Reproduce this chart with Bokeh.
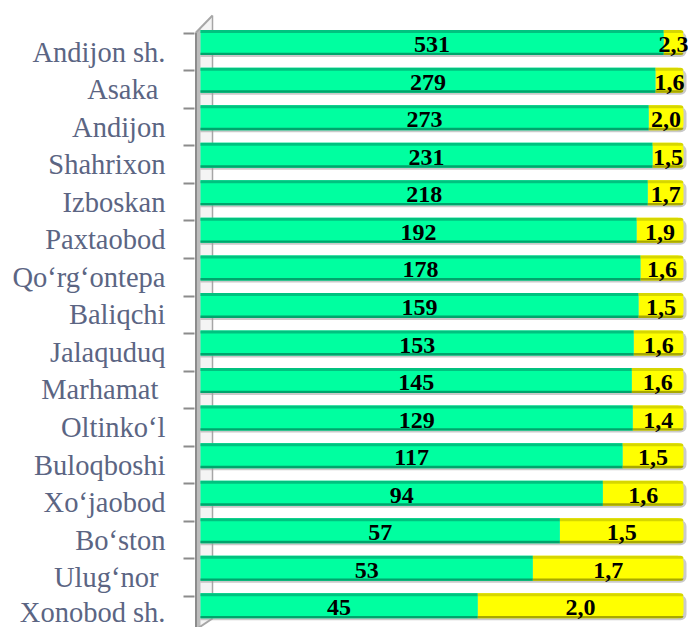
from bokeh.plotting import figure
from bokeh.models import Range1d, LinearAxis, FixedTicker, ColumnDataSource
from bokeh.core.properties import value
from bokeh.embed import file_html
from bokeh.resources import INLINE

# ---------------- data ----------------
districts = ["Andijon sh.", "Asaka\u00a0", "Andijon", "Shahrixon", "Izboskan", "Paxtaobod",
             "Qo\u2018rg\u2018ontepa", "Baliqchi", "Jalaquduq", "Marhamat\u00a0", "Oltinko\u2018l",
             "Buloqboshi", "Xo\u2018jaobod", "Bo\u2018ston", "Ulug\u2018nor\u00a0", "Xonobod sh."]
green_values = [531, 279, 273, 231, 218, 192, 178, 159, 153, 145, 129, 117, 94, 57, 53, 45]
yellow_values = [2.3, 1.6, 2.0, 1.5, 1.7, 1.9, 1.6, 1.5, 1.6, 1.6, 1.4, 1.5, 1.6, 1.5, 1.7, 2.0]
green_share = [95.9, 94.2, 92.8, 93.6, 92.6, 90.3, 91.1, 90.7, 89.7, 89.3, 89.5, 87.4, 83.3, 74.4, 68.8, 57.4]

# ---------------- geometry ----------------
W, H = 688, 627
LEFT = 194
KX = 4.83            # px per percent
KY = 37.55           # px per category
X0 = -6.0 / KX
X1 = X0 + (W - LEFT) / KX
Y_TOP = -51.5 / KY
Y_BOT = Y_TOP + H / KY
PX = 1.0 / KX
PY = 1.0 / KY


def xd(px):  # page px -> data x
    return X0 + (px - LEFT) / KX


def yd(py):  # page px -> data y
    return Y_TOP + py / KY


n = len(districts)
BAR_SHIFT = -0.25
BAR_H = 25 * PY
idx = list(range(n))
bar_y = [i + BAR_SHIFT for i in idx]
full = [100.0] * n

src = ColumnDataSource(dict(
    y=bar_y,
    y_top_edge=[y - BAR_H / 2 + 1.5 * PY for y in bar_y],
    y_bot_edge=[y + BAR_H / 2 - 1.2 * PY for y in bar_y],
    y_shadow=[y + 2 * PY for y in bar_y],
    y_text=[y + 2 * PY for y in bar_y],
    share=green_share,
    full=full,
    full_sh=[f + 3 * PX for f in full],
    zero=[0.0] * n,
    gmid=[s / 2 for s in green_share],
    ymid=[(s + 100) / 2 for s in green_share],
    gtxt=[str(v) for v in green_values],
    ytxt=[f"{v:.1f}".replace(".", ",") for v in yellow_values],
))

p = figure(width=W, height=H, x_range=Range1d(X0, X1), y_range=Range1d(Y_BOT, Y_TOP),
           output_backend="svg", toolbar_location=None,
           x_axis_location=None, y_axis_location=None,
           min_border_left=LEFT, min_border_right=0, min_border_top=0, min_border_bottom=0)
p.outline_line_color = None
p.xgrid.visible = False
p.ygrid.visible = False
p.background_fill_color = "white"

# ---------------- left wall ----------------
p.patch([xd(195), xd(212), xd(212), xd(195)], [yd(32), yd(15), yd(618), yd(629)],
        fill_color="#F4F4F4", line_color=None)
p.patch([xd(195), xd(200), xd(200), xd(195)], [yd(32), yd(28), yd(626), yd(629)],
        fill_color="#BDBDBD", line_color=None)
p.line([xd(195.5), xd(195.5)], [yd(32), yd(629)], line_color="#8C8C8C", line_width=2)
p.line([xd(212), xd(212)], [yd(15), yd(618)], line_color="#A6A6A6", line_width=1.5)
p.line([xd(195.5), xd(212)], [yd(32), yd(15)], line_color="#A6A6A6", line_width=2)
p.line([xd(195.5), xd(212)], [yd(629), yd(618)], line_color="#A6A6A6", line_width=2)

# ---------------- bars ----------------
p.hbar(y="y_shadow", left="zero", right="full_sh", height=BAR_H, source=src,
       fill_color="#9E9E9E", fill_alpha=0.55, line_color=None, border_radius=(0, 6, 6, 0))
p.hbar(y="y", left="share", right="full", height=BAR_H, source=src,
       fill_color="#FFFF00", line_color=None, border_radius=(0, 6, 6, 0))
p.hbar(y="y", left="zero", right="share", height=BAR_H, source=src,
       fill_color="#00FFA0", line_color=None)
p.hbar(y="y_top_edge", left="zero", right="share", height=3 * PY, source=src,
       fill_color="#00C27F", line_color=None)
p.hbar(y="y_bot_edge", left="zero", right="share", height=2.4 * PY, source=src,
       fill_color="#00A46C", line_color=None)
p.hbar(y="y_top_edge", left="share", right="full", height=3 * PY, source=src,
       fill_color="#D6D600", line_color=None, border_radius=(0, 3, 0, 0))
p.hbar(y="y_bot_edge", left="share", right="full", height=2.4 * PY, source=src,
       fill_color="#A8A800", line_color=None, border_radius=(0, 0, 3, 0))

# ---------------- value labels ----------------
for col_x, col_t in (("gmid", "gtxt"), ("ymid", "ytxt")):
    p.text(x=col_x, y="y_text", text=col_t, source=src,
           text_font=value("Liberation Serif"), text_font_style="bold",
           text_font_size="24px", text_color="black",
           text_align="center", text_baseline="middle")

# ---------------- category axis ----------------
ax = LinearAxis(ticker=FixedTicker(ticks=idx, minor_ticks=[i - 0.5 for i in range(n + 1)]))
ax.major_label_overrides = {i: name for i, name in enumerate(districts)}
ax.axis_line_color = None
ax.major_tick_line_color = None
ax.major_tick_out = 0
ax.major_tick_in = 0
ax.minor_tick_line_color = "#8C8C8C"
ax.minor_tick_line_width = 2
ax.minor_tick_out = 11
ax.minor_tick_in = 0
ax.major_label_standoff = 18
ax.major_label_text_font = "Liberation Serif"
ax.major_label_text_font_size = "28.5px"
ax.major_label_text_color = "#5B6583"
p.add_layout(ax, "left")

open("out.html", "w").write(file_html(p, INLINE))
